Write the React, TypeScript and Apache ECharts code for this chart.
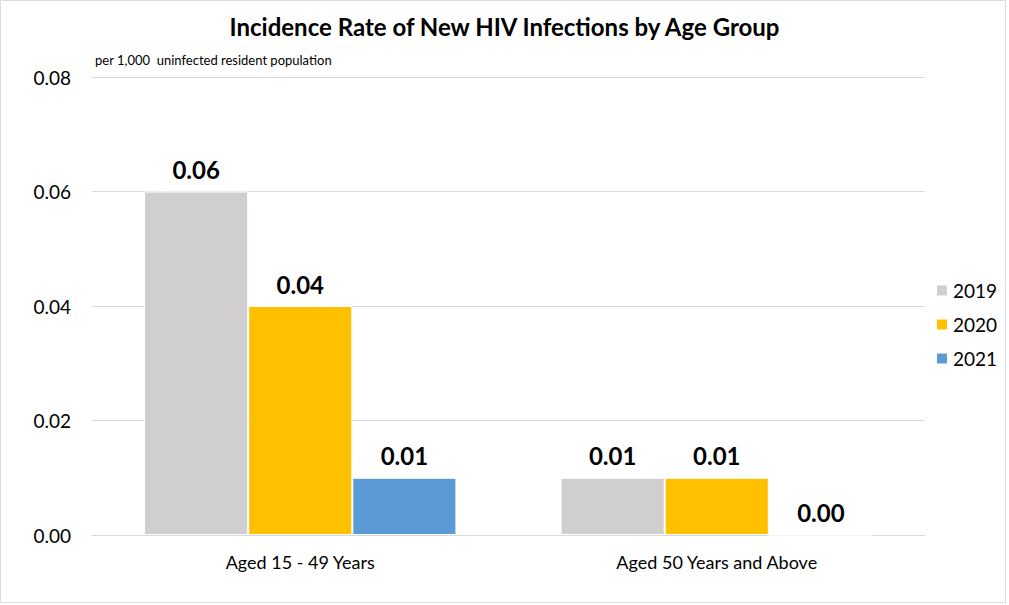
import React, { useEffect, useRef } from "react";
import * as echarts from "echarts";

const categories = ["Aged 15 - 49 Years", "Aged 50 Years and Above"];
const seriesNames = ["2019", "2020", "2021"];
const values2019 = [0.06, 0.01];
const values2020 = [0.04, 0.01];
const values2021 = [0.01, 0.0];
const colors = ["#d0cece", "#ffc000", "#5b9bd5"];
const titleText = "Incidence Rate of New HIV Infections by Age Group";
const unitText = "per 1,000  uninfected resident population";

const FONT = "Lato, 'Open Sans', sans-serif";

export default function App() {
  const ref = useRef<HTMLDivElement>(null);
  useEffect(() => {
    document.body.style.margin = "0";
    const chart = echarts.init(ref.current!, null, { renderer: "svg" });
    const data = [values2019, values2020, values2021];
    chart.setOption({
      animation: false,
      backgroundColor: "#ffffff",
      textStyle: { fontFamily: FONT },
      title: {
        text: titleText,
        left: "center",
        top: 9,
        textStyle: { fontSize: 24, fontWeight: "bold", color: "#000", fontFamily: FONT },
      },
      graphic: [
        {
          type: "rect",
          shape: { x: 0.5, y: 0.5, width: 1005, height: 602 },
          style: { fill: "none", stroke: "#d9dee5", lineWidth: 1 },
          silent: true,
        },
        {
          type: "text",
          left: 95,
          top: 53,
          style: { text: unitText, fontSize: 13, fill: "#000", fontFamily: FONT },
        },
      ],
      legend: {
        orient: "vertical",
        left: 930,
        top: 276,
        itemWidth: 12,
        itemHeight: 12,
        itemGap: 15,
        icon: "rect",
        textStyle: { fontSize: 19, color: "#000", fontFamily: FONT },
        data: seriesNames,
      },
      grid: { left: 92, right: 84, top: 77, bottom: 70 },
      xAxis: {
        type: "category",
        data: categories,
        axisLine: { show: true, lineStyle: { color: "#d9d9d9", width: 1 } },
        axisTick: { show: false },
        axisLabel: { fontSize: 18, color: "#000", margin: 18, fontFamily: FONT },
      },
      yAxis: {
        type: "value",
        min: 0,
        max: 0.08,
        interval: 0.02,
        axisLine: { show: false },
        axisTick: { show: false },
        splitLine: { lineStyle: { color: "#d9d9d9", width: 1 } },
        axisLabel: {
          fontSize: 19,
          color: "#000",
          margin: 21,
          fontFamily: FONT,
          formatter: (v: number) => v.toFixed(2),
        },
      },
      series: seriesNames.map((name, i) => ({
        name,
        type: "bar",
        data: data[i],
        barGap: "0%",
        barCategoryGap: "25%",
        itemStyle: { color: colors[i], borderColor: "#ffffff", borderWidth: 1 },
        label: {
          show: true,
          position: "top",
          distance: 10,
          fontSize: 24,
          fontWeight: "bold",
          color: "#000",
          fontFamily: FONT,
          formatter: (p: any) => Number(p.value).toFixed(2),
        },
      })),
    });
    return () => chart.dispose();
  }, []);
  return (
    <div style={{ position: "fixed", left: 0, top: 0 }}>
      <div ref={ref} style={{ width: 1009, height: 605 }} />
    </div>
  );
}
